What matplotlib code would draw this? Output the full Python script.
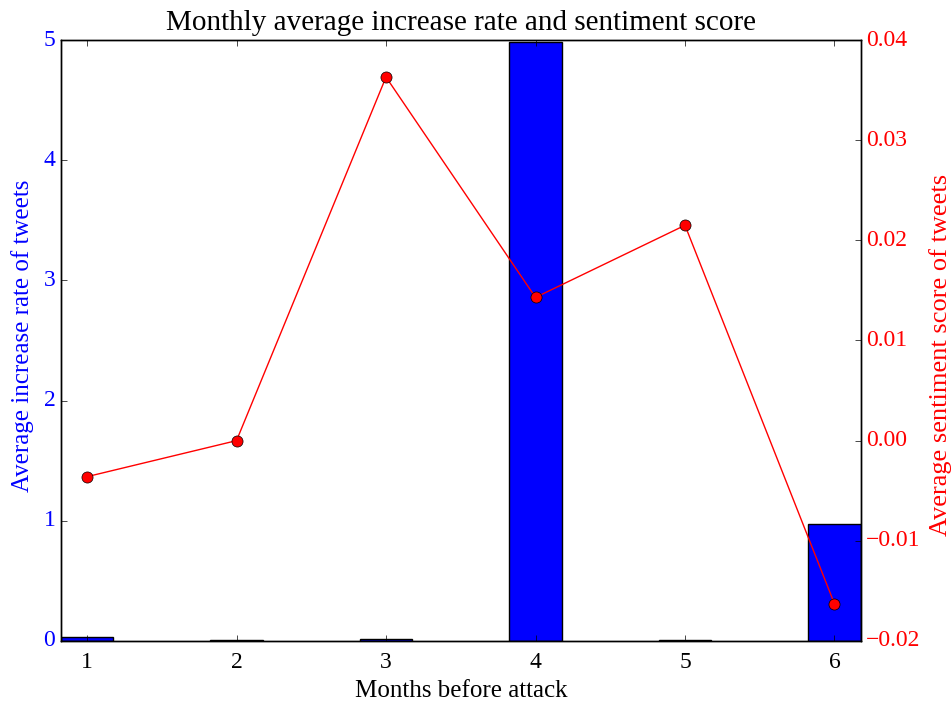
import numpy as np
import matplotlib
matplotlib.use("Agg")
import matplotlib.pyplot as plt

plt.style.use("classic")
plt.rcParams["font.family"] = ["Liberation Serif", "DejaVu Serif"]

months = [1, 2, 3, 4, 5, 6]
increase_rate = [0.03, 0.01, 0.02, 4.98, 0.01, 0.97]
sentiment = [-0.0036, 0.0, 0.0363, 0.0143, 0.0215, -0.0163]

fig = plt.figure(figsize=(9.51, 7.02), dpi=100)
ax = fig.add_axes([0.064, 0.087, 0.841, 0.856])

ax.bar(months, increase_rate, width=0.35, align="center", color="b", edgecolor="k")
ax.set_xlim(0.825, 6.175)
ax.set_ylim(0, 5)
ax.set_xticks(months)
ax.set_xlabel("Months before attack", fontsize=18, labelpad=5)
ax.set_ylabel("Average increase rate of tweets", color="b", fontsize=18, labelpad=7)
ax.yaxis.label.set_y(0.507)
ax.tick_params(axis="both", labelsize=17)
ax.tick_params(axis="x", pad=8)
for t in ax.get_yticklabels():
    t.set_color("b")
ax.set_title("Monthly average increase rate and sentiment score", fontsize=21, y=1.005)

ax2 = ax.twinx()
ax2.plot(months, sentiment, "r-o", markersize=8)
ax2.set_xlim(0.825, 6.175)
ax2.set_ylim(-0.02, 0.04)
ax2.set_ylabel("Average sentiment score of tweets", color="r", fontsize=19, labelpad=6)
ax2.yaxis.label.set_y(0.476)
ax2.tick_params(axis="y", labelsize=17)
for t in ax2.get_yticklabels():
    t.set_color("r")

fig.savefig("out.png", dpi=100)
